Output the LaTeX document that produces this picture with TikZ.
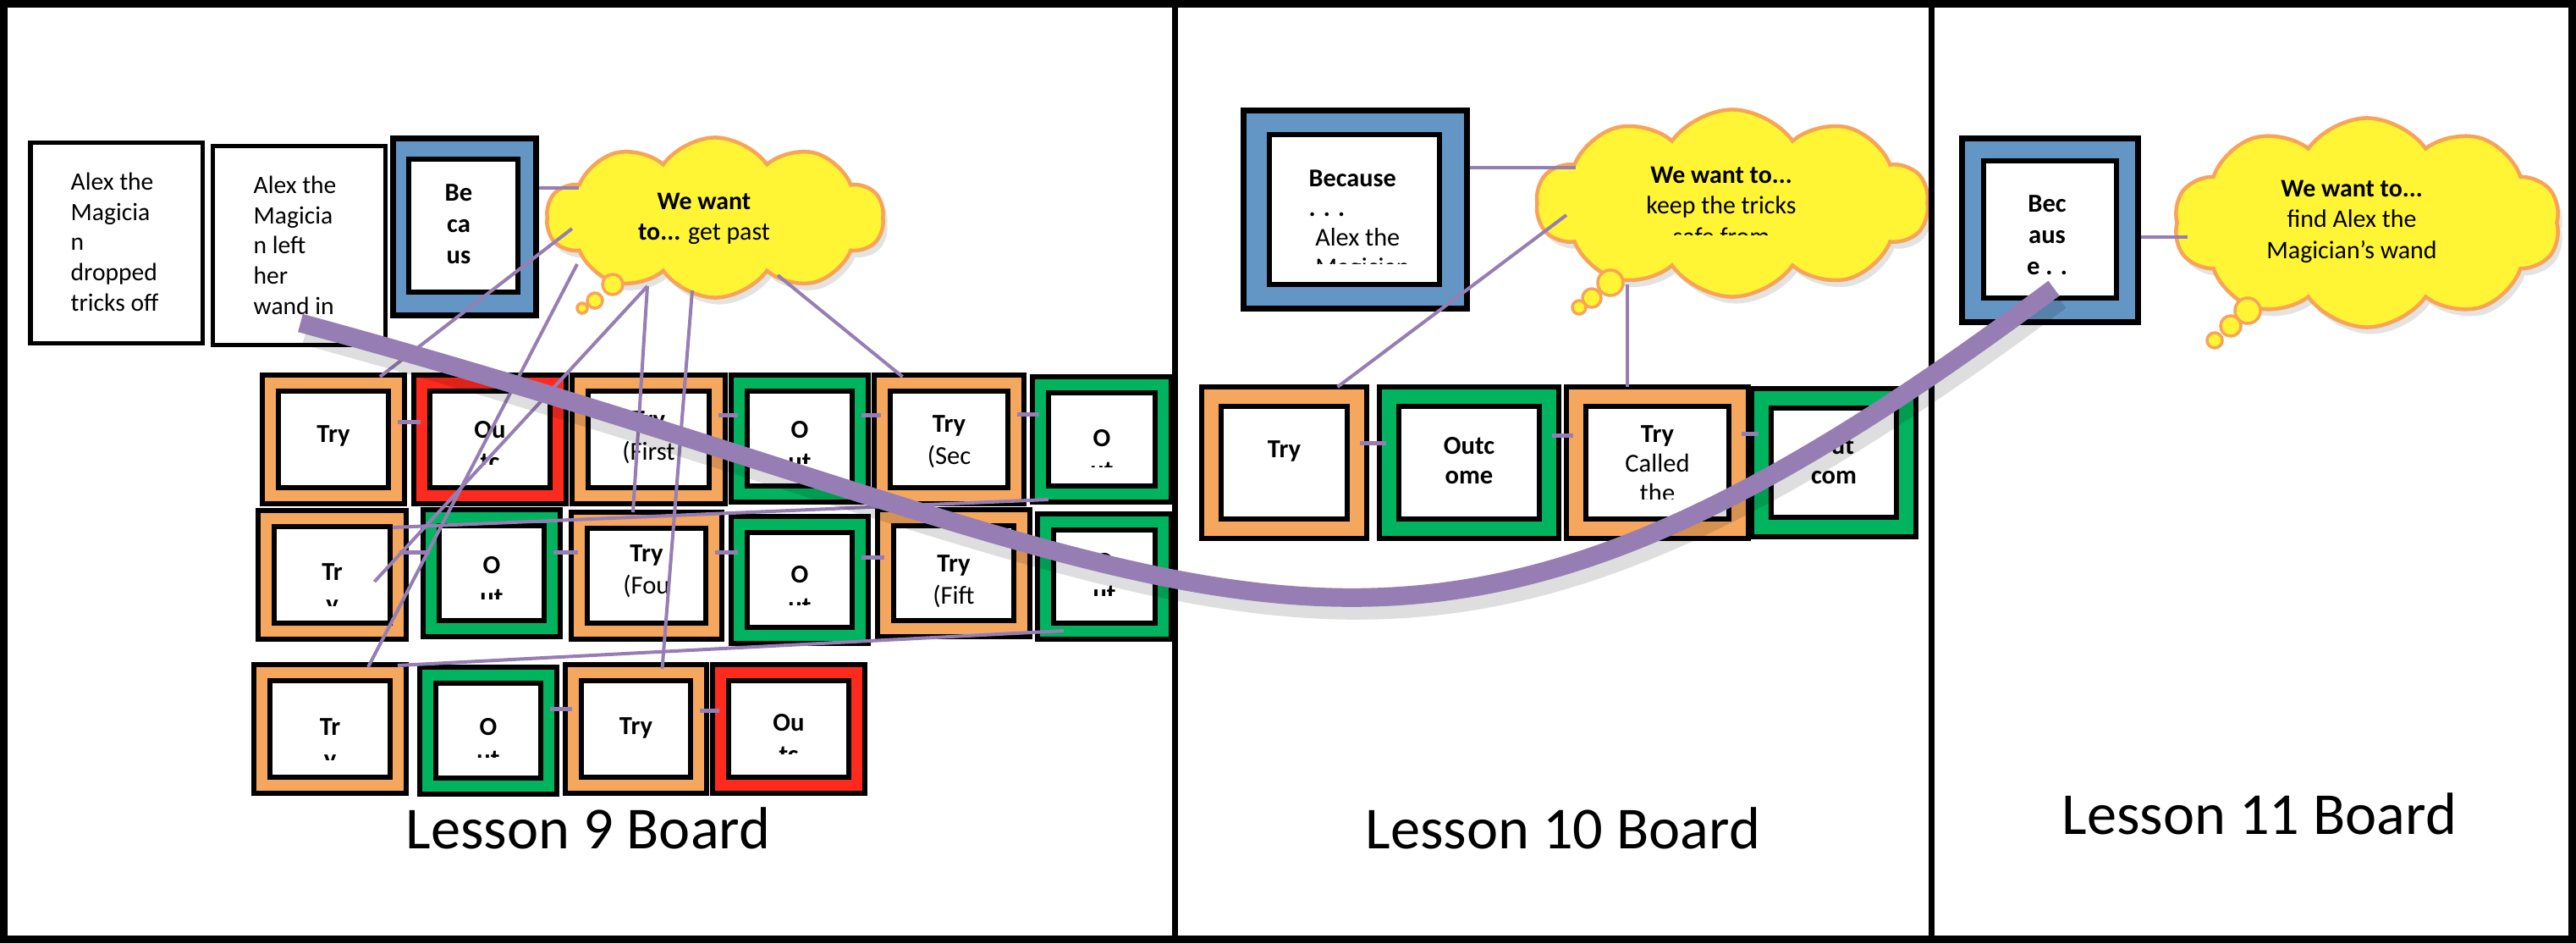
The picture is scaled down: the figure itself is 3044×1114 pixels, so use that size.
\documentclass[tikz,border=0pt]{standalone}
\usepackage{fontspec}
\setmainfont{Carlito}
\usetikzlibrary{fit,calc,shapes.symbols,shadows}
\definecolor{corange}{RGB}{246,167,94}
\definecolor{cred}{RGB}{255,42,30}
\definecolor{cgreen}{RGB}{0,180,95}
\definecolor{cblue}{RGB}{99,149,197}
\definecolor{cyellow}{RGB}{255,245,52}
\definecolor{cedge}{RGB}{248,164,88}
\definecolor{cpurple}{RGB}{150,126,180}
\newcommand\cardinset{19}
\newcommand\cardlead{10.8pt}
% #1 name #2 fill #3 x1 #4 y1 #5 x2 #6 y2 #7 text top #8 clip offset #9 text
\newcommand\card[9]{%
  \node[cardout, fill=#2, fit={(#3,#4)(#5,#6)}] (#1) {};
  \node[cardin, fit={(#3+\cardinset,#4+\cardinset)(#5-\cardinset,#6-\cardinset)}] (#1in) {};
  \begin{scope}
    \clip (#3,#4) rectangle (#5,#7+#8);
    \node[cardtxt] (#1txt) at ({(#3+#5)/2},#7) {#9};
  \end{scope}}
\begin{document}
\begin{tikzpicture}[x=0.01cm,y=-0.01cm,
  cardout/.style={draw=black, line width=0.06cm, inner sep=0pt, outer sep=0pt},
  cardin/.style={draw=black, fill=white, line width=0.06cm, inner sep=0pt, outer sep=0pt},
  cardtxt/.style={anchor=north, inner sep=0pt, align=center, font=\bfseries\fontsize{8.7}{\cardlead}\selectfont},
  whitebox/.style={draw=black, fill=white, line width=0.05cm, inner sep=0pt},
  bluebox/.style={draw=black, fill=cblue, line width=0.07cm, inner sep=0pt},
  plaintxt/.style={anchor=north west, inner sep=0pt, align=left, font=\fontsize{8.4}{10.2}\selectfont},
  cloudtxt/.style={anchor=north, inner sep=0pt, align=center, font=\fontsize{8.5}{10.4}\selectfont},
  thought/.style={cloud, cloud puffs=10, cloud puff arc=110, cloud ignores aspect, draw=cedge, fill=cyellow, line width=0.045cm, inner sep=0pt,
     drop shadow={opacity=0.22, shadow xshift=0.05cm, shadow yshift=-0.08cm}},
  bubble/.style={circle, draw=cedge, fill=cyellow, line width=0.035cm, inner sep=0pt},
  conn/.style={draw=cpurple, line width=0.04cm},
  stub/.style={draw=cpurple, line width=0.05cm, shorten <=-0.08cm, shorten >=-0.08cm},
  lbl/.style={anchor=base, inner sep=0pt, font=\fontsize{20}{24}\selectfont}]
\useasboundingbox (0,0) rectangle (3044,1114);
\fill[white] (0,0) rectangle (3044,1114);

% ---------- Lesson 9 ----------
\node[whitebox, fit={(36,168)(239,405)}] (a1) {};
\node[plaintxt] (a1t) at (83,203) {Alex the\\Magicia\\n\\dropped\\tricks off};
\node[whitebox, fit={(251,172)(455,407)}] (a2) {};
\node[plaintxt] (a2t) at (299,207) {Alex the\\Magicia\\n left\\her\\wand in};

\node[bluebox, fit={(464,163)(633,372)}] (b9) {};
\node[cardin, fit={(483,188)(612,345)}] (b9in) {};
\node[cardtxt, font=\bfseries\fontsize{8.7}{10.5}\selectfont] (b9t) at (542,217) {Be\\ca\\us};

\card{r1a}{corange}{310}{443}{478}{595}{502}{60}{Try}
\card{r1b}{cred}{489}{443}{669}{595}{497}{51}{Ou\\tc}
\card{r1c}{corange}{676}{443}{857}{595}{485}{68}{Try\\\mdseries(First}
\card{r1d}{cgreen}{864}{443}{1026}{593}{497}{50}{O\\ut}
\card{r1e}{corange}{1033}{443}{1210}{595}{490}{62}{Try\\\mdseries(Sec}
\card{r1f}{cgreen}{1220}{445}{1384}{593}{507}{44}{O\\ut}

\card{r2a}{corange}{305}{603}{480}{755}{665}{50}{Tr\\y}
\card{r2b}{cgreen}{500}{602}{662}{752}{657}{50}{O\\ut}
\card{r2c}{corange}{675}{605}{853}{755}{643}{70}{Try\\\mdseries(Fou}
\card{r2d}{cgreen}{864}{610}{1026}{760}{668}{46}{O\\ut}
\card{r2e}{corange}{1037}{602}{1217}{752}{655}{62}{Try\\\mdseries(Fift}
\card{r2f}{cgreen}{1226}{607}{1384}{755}{653}{50}{O\\ut}

\card{r3a}{corange}{300}{785}{480}{937}{848}{49}{Tr\\y}
\card{r3b}{cgreen}{496}{788}{658}{938}{848}{46}{O\\ut}
\card{r3c}{corange}{668}{785}{835}{937}{847}{60}{Try}
\card{r3d}{cred}{842}{785}{1022}{937}{843}{47}{Ou\\tc}

\node[thought, minimum width=3.98cm, minimum height=1.89cm] (c9) at (845,257) {};
\node[bubble, minimum size=0.24cm] (c9b1) at (724,336) {};
\node[bubble, minimum size=0.18cm] (c9b2) at (703,355) {};
\node[bubble, minimum size=0.12cm] (c9b3) at (688,364) {};
\node[cloudtxt] (c9t) at (832,227) {\textbf{We want}\\\textbf{to...} get past};

% ---------- Lesson 10 ----------
\renewcommand\cardinset{23}
\renewcommand\cardlead{10pt}
\node[bluebox, fit={(1469,130)(1733,364)}] (b10) {};
\node[cardin, fit={(1500,159)(1701,336)}] (b10in) {};
\begin{scope}
  \clip (1500,159) rectangle (1701,311);
  \node[plaintxt, font=\fontsize{8.6}{10}\selectfont] (b10t) at (1546,200)
    {\textbf{Because}\\\textbf{. . .}\\\hspace*{0.25em}Alex the\\\hspace*{0.25em}Magician};
\end{scope}

\card{r10a}{corange}{1420}{457}{1615}{636}{520}{69}{Try}
\card{r10b}{cgreen}{1630}{457}{1842}{636}{516}{73}{Outc\\ome}
\card{r10c}{corange}{1851}{457}{2066}{636}{502}{87}{Try\\\mdseries Called\\\mdseries the}
\card{r10d}{cgreen}{2070}{459}{2264}{634}{516}{73}{Out\\com\\e}

\node[thought, minimum width=4.63cm, minimum height=2.21cm] (c10) at (2047,240) {};
\node[bubble, minimum size=0.30cm] (c10b1) at (1903,334) {};
\node[bubble, minimum size=0.22cm] (c10b2) at (1881,352) {};
\node[bubble, minimum size=0.16cm] (c10b3) at (1866,363) {};
\begin{scope}
  \clip (1816,120) rectangle (2280,277);
  \node[cloudtxt] (c10t) at (2034,196) {\textbf{We want to...}\\keep the tricks\\safe from};
\end{scope}

% ---------- Lesson 11 ----------
\node[bluebox, fit={(2318,163)(2526,380)}] (b11) {};
\node[cardin, fit={(2344,190)(2501,352)}] (b11in) {};
\node[cardtxt, font=\bfseries\fontsize{8.7}{10.5}\selectfont] (b11t) at (2419,230) {Bec\\aus\\e . .};

\node[thought, minimum width=4.56cm, minimum height=2.47cm] (c11) at (2797,263) {};
\node[bubble, minimum size=0.30cm] (c11b1) at (2656,367) {};
\node[bubble, minimum size=0.24cm] (c11b2) at (2636,385) {};
\node[bubble, minimum size=0.18cm] (c11b3) at (2617,402) {};
\node[cloudtxt] (c11t) at (2779,212) {\textbf{We want to...}\\find Alex the\\Magician’s wand};

% ---------- labels ----------
\node[lbl] (l9) at (695,1002) {Lesson 9 Board};
\node[lbl] (l10) at (1847,1002) {Lesson 10 Board};
\node[lbl] (l11) at (2670,985) {Lesson 11 Board};

% ---------- frame ----------
\draw[line width=0.09cm] (4.5,4.5) rectangle (3039.5,1109.5);
\draw[line width=0.07cm] (1388,0) -- (1388,1114);
\draw[line width=0.07cm] (2282,0) -- (2282,1114);

% ---------- thin connectors ----------
\coordinate (c9a) at (684,222);
\coordinate (c9b) at (676,270);
\coordinate (c9c) at (682,312);
\coordinate (c9d) at (765,338);
\coordinate (c9e) at (818,343);
\coordinate (c9f) at (919,325);
\draw[conn] (b9.east |- c9a) -- (c9a);
\draw[conn] (c9b) -- ($(r1a.north)+(55,2)$);
\draw[conn] (c9c) -- ($(r3a.north)+(45,3)$);
\draw[conn] (c9d) -- ($(r2a.center)+(50,8)$);
\draw[conn] (c9d) -- ($(r2c.north)+(-16,0)$);
\draw[conn] (c9e) -- ($(r3c.north)+(31,5)$);
\draw[conn] (c9f) -- ($(r1e.north)+(-55,2)$);
\draw[conn] ($(r1f.south west)+(19,-3)$) -- ($(r2a.north east)+(-16,20)$);
\draw[conn] ($(r2f.south west)+(31,-10)$) -- ($(r3a.north east)+(-10,1)$);

\coordinate (c10a) at (1862,198);
\coordinate (c10b) at (1851,254);
\coordinate (c10c) at (1923,336);
\draw[conn] (b10.east |- c10a) -- (c10a);
\draw[conn] (c10b) -- ($(r10a.north)+(63,0)$);
\draw[conn] (c10c) -- (r10c.north -| c10c);

\coordinate (c11a) at (2585,280);
\draw[conn] (b11.east |- c11a) -- (c11a);

% stubs between neighbouring cards
\draw[stub] (r1a.east |- 0,498) -- (r1b.west |- 0,498);
\draw[stub] (r1c.east |- 0,490) -- (r1d.west |- 0,490);
\draw[stub] (r1d.east |- 0,490) -- (r1e.west |- 0,490);
\draw[stub] (r1e.east |- 0,489) -- (r1f.west |- 0,489);
\draw[stub] (r2a.east |- 0,652) -- (r2b.west |- 0,652);
\draw[stub] (r2b.east |- 0,652) -- (r2c.west |- 0,652);
\draw[stub] (r2c.east |- 0,652) -- (r2d.west |- 0,652);
\draw[stub] (r2d.east |- 0,658) -- (r2e.west |- 0,658);
\draw[stub] (r3b.east |- 0,837) -- (r3c.west |- 0,837);
\draw[stub] (r3c.east |- 0,839) -- (r3d.west |- 0,839);
\draw[stub] (r10a.east |- 0,523) -- (r10b.west |- 0,523);
\draw[stub] (r10b.east |- 0,514) -- (r10c.west |- 0,514);
\draw[stub] (r10c.east |- 0,512) -- (r10d.west |- 0,512);

% ---------- big curve ----------
\coordinate (cs) at ($(a2.south)+(2,-28)$);
\coordinate (ce) at ($(b11.south)+(5,-43)$);
\draw[black, opacity=0.13, line width=0.28cm, transform canvas={shift={(0.06cm,-0.12cm)}}]
  (cs) .. controls (1458,681) and (1615,947) .. (ce);
\draw[cpurple, line width=0.22cm] (cs) .. controls (1458,681) and (1615,947) .. (ce);
\end{tikzpicture}
\end{document}
